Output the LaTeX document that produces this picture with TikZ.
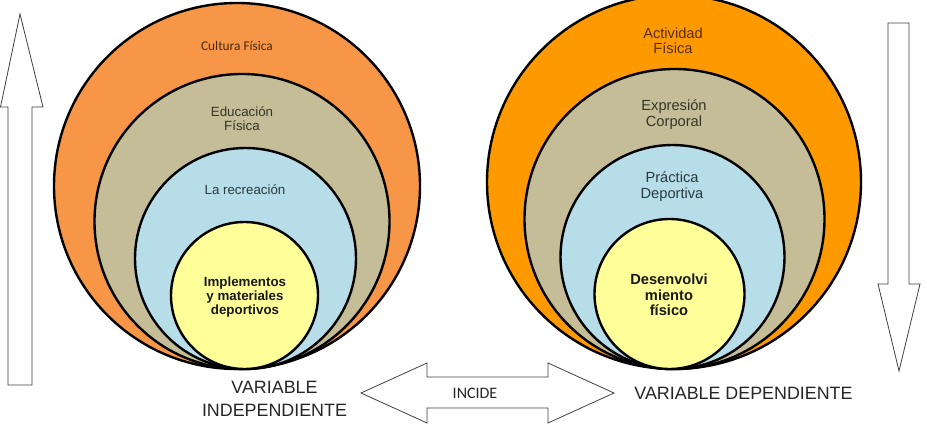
\documentclass[tikz,border=0pt]{standalone}
\usepackage{fontspec}
\setmainfont{Liberation Sans}
\newfontfamily\calibrifont{Carlito}
\usetikzlibrary{positioning}
\definecolor{corange}{HTML}{F79646}
\definecolor{cdorange}{HTML}{FF9900}
\definecolor{ctan}{HTML}{C4BD97}
\definecolor{cblue}{HTML}{B7DDE8}
\definecolor{cyellow}{HTML}{FFFF99}
\definecolor{cbrown}{HTML}{4A2A10}
\definecolor{cdbrown}{HTML}{5A2E00}
\definecolor{cgrey}{HTML}{37342A}
\definecolor{cteal}{HTML}{2A3A42}
\tikzset{
  every picture/.style={line width=1.8pt},
  ring/.style={circle, draw=black, fill=#1, inner sep=0pt},
  lbl/.style={align=center, font=\fontsize{10}{10.7}\selectfont, text=#1},
  lbl/.default=cgrey,
  rlbl/.style={align=center, font=\fontsize{11}{11.5}\selectfont, text=#1},
  rlbl/.default=cgrey,
  core/.style={align=center, font=\bfseries\fontsize{10}{10.5}\selectfont, text=black!90},
  blockarrow/.style={draw=black!75, line width=0.6pt, fill=white},
  varlbl/.style={align=center, font=\fontsize{13.4}{17.3}\selectfont, text=black!85},
}

\begin{document}
\begin{tikzpicture}[x=0.75pt, y=-0.75pt]
  \useasboundingbox (0,0) rectangle (927,428);
  % variable independiente
  \node[ring=corange, minimum size=274.5pt] (cultura) at (237,186) {};
  \node[ring=ctan, minimum size=221.25pt] (educacion) at (242,221.5) {};
  \node[ring=cblue, minimum size=165.75pt] (recreacion) at (245.5,258.5) {};
  \node[ring=cyellow, minimum size=110.25pt] (implementos) at (244.5,295.5) {};
  \node[lbl=cbrown, font=\calibrifont\fontsize{10}{11}\selectfont] (tcultura) at (237,46) {Cultura Física};
  \node[lbl] (teducacion) at (242,119) {Educación\\Física};
  \node[lbl=cteal] (trecreacion) at (245,190) {La recreación};
  \node[core] (timplementos) at (245,297) {Implementos\\y materiales\\deportivos};
  % variable dependiente
  \node[ring=cdorange, minimum size=280.5pt] (actividad) at (674,182) {};
  \node[ring=ctan, minimum size=225pt] (expresion) at (674.5,219) {};
  \node[ring=cblue, minimum size=168pt] (practica) at (672.5,257) {};
  \node[ring=cyellow, minimum size=112.5pt] (desenvolvimiento) at (669.5,294) {};
  \node[rlbl=cdbrown] (tactividad) at (673,41) {Actividad\\Física};
  \node[rlbl] (texpresion) at (674,114.5) {Expresión\\Corporal};
  \node[rlbl=cteal] (tpractica) at (672,186.5) {Práctica\\Deportiva};
  \node[core, font=\bfseries\fontsize{11}{11.5}\selectfont] (tdesenvolvimiento) at (669,295) {Desenvolvi\\miento\\físico};
  % flechas
  \draw[blockarrow] (8,385) -- (8,107) -- (0.5,107) -- (20,14) -- (43,107) -- (32,107) -- (32,385) -- cycle;
  \draw[blockarrow] (888,23) -- (888,284) -- (878,284) -- (899,371) -- (920,284) -- (909,284) -- (909,23) -- cycle;
  \draw[blockarrow] (361,393) -- (427,363) -- (427,377) -- (548,377) -- (548,363) -- (614,393)
    -- (548,423) -- (548,408) -- (427,408) -- (427,423) -- cycle;
  \node[font=\calibrifont\fontsize{12}{13}\selectfont, text=black!85] (incide) at (475,393) {INCIDE};
  \node[varlbl] (independiente) at (274.5,398.5) {VARIABLE\\INDEPENDIENTE};
  \node[varlbl] (dependiente) at (743.5,393) {VARIABLE DEPENDIENTE};
\end{tikzpicture}
\end{document}
